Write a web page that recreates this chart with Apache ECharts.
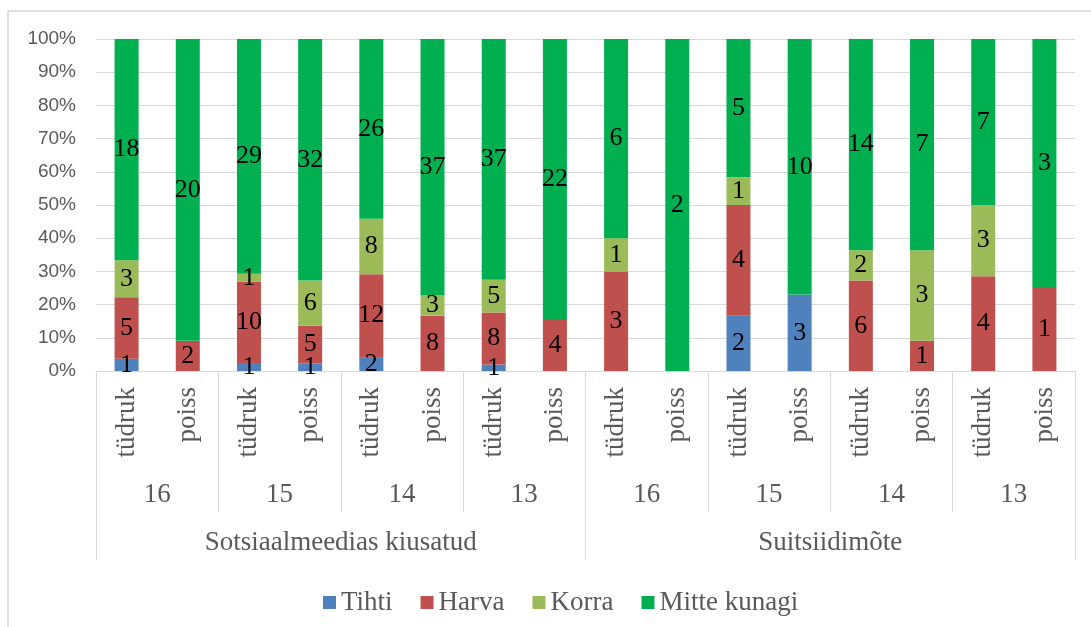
<!DOCTYPE html>
<html>
<head>
<meta charset="utf-8">
<script src="https://cdn.jsdelivr.net/npm/echarts@6/dist/echarts.min.js"></script>
<style>html,body{margin:0;padding:0;background:#fff;}#c{width:1091px;height:627px;}</style>
</head>
<body>
<div id="c"></div>
<script>
const genders = ['tüdruk','poiss','tüdruk','poiss','tüdruk','poiss','tüdruk','poiss','tüdruk','poiss','tüdruk','poiss','tüdruk','poiss','tüdruk','poiss'];
const ages = ['16','15','14','13','16','15','14','13'];
const groups = ['Sotsiaalmeedias kiusatud','Suitsiidimõte'];
const seriesNames = ['Tihti','Harva','Korra','Mitte kunagi'];
const tihti  = [1,0,1,1,2,0,1,0, 0,0,2,3,0,0,0,0];
const harva  = [5,2,10,5,12,8,8,4, 3,0,4,0,6,1,4,1];
const korra  = [3,0,1,6,8,3,5,0, 1,0,1,0,2,3,3,0];
const mitte  = [18,20,29,32,26,37,37,22, 6,2,5,10,14,7,7,3];
const colors = ['#4f81bd','#c0504d','#9bbb59','#00b050'];

const counts = [tihti, harva, korra, mitte];
const totals = genders.map((_, i) => counts.reduce((s, a) => s + a[i], 0));

const serif = '"Liberation Serif","Times New Roman",serif';
const gray = '#595959';
const lineGray = '#d9d9d9';

const series = counts.map((arr, k) => ({
  name: seriesNames[k],
  type: 'bar',
  stack: 'total',
  barWidth: 24,
  xAxisIndex: 0,
  itemStyle: { color: colors[k] },
  data: arr.map((v, i) => totals[i] ? v / totals[i] * 100 : 0),
  label: {
    show: true,
    position: 'inside',
    color: '#000',
    fontFamily: serif,
    fontSize: 26,
    formatter: p => arr[p.dataIndex] ? String(arr[p.dataIndex]) : ''
  }
}));

const chart = echarts.init(document.getElementById('c'));
chart.setOption({
  animation: false,
  backgroundColor: '#fff',
  graphic: [{
    type: 'rect',
    shape: { x: 8, y: 11, width: 1200, height: 700 },
    style: { fill: 'none', stroke: lineGray, lineWidth: 1.5 },
    silent: true, z: -10
  }],
  grid: { left: 96, right: 16, top: 39, bottom: 256, containLabel: false },
  legend: {
    data: seriesNames,
    left: 318,
    top: 584,
    icon: 'rect',
    itemWidth: 13,
    itemHeight: 13,
    itemGap: 28,
    textStyle: { fontFamily: serif, fontSize: 27, color: gray }
  },
  yAxis: {
    type: 'value',
    min: 0, max: 100, interval: 10,
    axisLine: { show: false },
    axisTick: { show: false },
    splitLine: { lineStyle: { color: lineGray, width: 1 } },
    axisLabel: {
      formatter: '{value}%',
      fontFamily: '"Liberation Sans",Arial,sans-serif',
      fontSize: 19,
      color: gray,
      margin: 20
    }
  },
  xAxis: [
    {
      type: 'category',
      data: genders,
      position: 'bottom',
      axisLine: { lineStyle: { color: lineGray, width: 1 } },
      axisTick: { show: false },
      axisLabel: {
        interval: 0,
        rotate: 90,
        margin: 16,
        fontFamily: serif,
        fontSize: 27,
        color: gray
      }
    },
    {
      type: 'category',
      data: ages,
      position: 'bottom',
      axisLine: { show: false },
      axisTick: { show: true, interval: 0, length: 141, lineStyle: { color: lineGray, width: 1 } },
      axisLabel: { interval: 0, margin: 110, fontFamily: serif, fontSize: 27, color: gray }
    },
    {
      type: 'category',
      data: groups,
      position: 'bottom',
      axisLine: { show: false },
      axisTick: { show: true, interval: 0, length: 189, lineStyle: { color: lineGray, width: 1 } },
      axisLabel: { interval: 0, margin: 158, fontFamily: serif, fontSize: 27, color: gray }
    }
  ],
  series: series
});
</script>
</body>
</html>
